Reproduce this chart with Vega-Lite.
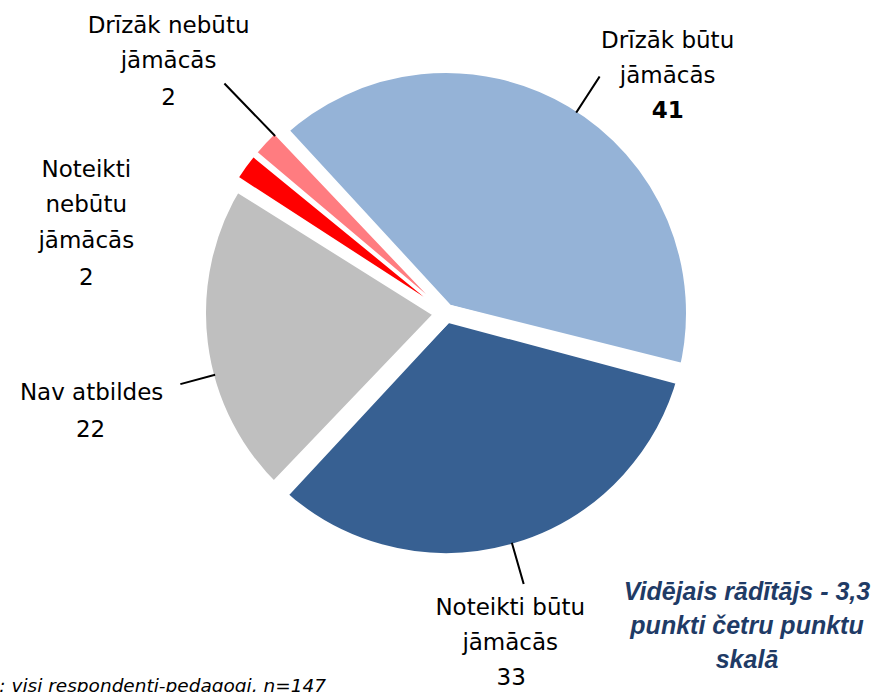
{
  "$schema": "https://vega.github.io/schema/vega-lite/v6.json",
  "width": 864,
  "height": 626,
  "autosize": {"type": "none"},
  "padding": {"left": 14, "top": 0, "right": 0, "bottom": 66},
  "background": "white",
  "config": {"view": {"stroke": null}, "text": {"font": "DejaVu Sans"}},
  "data": {"values": [
    {"cat": "Drīzāk būtu jāmācās", "name": "Drīzāk būtu\njāmācās", "value": 41, "ord": 1},
    {"cat": "Noteikti būtu jāmācās", "name": "Noteikti būtu\njāmācās", "value": 33, "ord": 2},
    {"cat": "Nav atbildes", "name": "Nav atbildes", "value": 22, "ord": 3},
    {"cat": "Noteikti nebūtu jāmācās", "name": "Noteikti\nnebūtu\njāmācās", "value": 2, "ord": 4},
    {"cat": "Drīzāk nebūtu jāmācās", "name": "Drīzāk nebūtu\njāmācās", "value": 2, "ord": 5}
  ]},
  "layer": [
    {
      "encoding": {
        "theta": {"field": "value", "type": "quantitative", "stack": true, "scale": {"range": [-0.752, 5.531]}},
        "order": {"field": "ord", "type": "quantitative"}
      },
      "layer": [
        {
          "mark": {"type": "arc", "outerRadius": 249, "padAngle": 0.015, "stroke": "white"},
          "encoding": {
            "color": {"field": "cat", "type": "nominal", "legend": null,
              "scale": {"domain": ["Drīzāk būtu jāmācās", "Noteikti būtu jāmācās", "Nav atbildes", "Noteikti nebūtu jāmācās", "Drīzāk nebūtu jāmācās"],
                        "range": ["#95B3D7", "#376092", "#BFBFBF", "#FF0000", "#FF7C80"]}},
            "strokeWidth": {"condition": {"test": "datum.value < 5", "value": 3}, "value": 18}
          }
        },
        {
          "mark": {"type": "text", "radius": 340, "align": "center", "baseline": "top", "fontSize": 23, "lineHeight": 35.5, "lineBreak": "\n", "dx": 48, "dy": 9, "color": "black"},
          "encoding": {"detail": {"field": "cat", "type": "nominal"}, "text": {"condition": {"test": "datum.ord === 1", "field": "name", "type": "nominal"}, "value": ""}}
        },
        {
          "mark": {"type": "text", "radius": 340, "align": "center", "baseline": "top", "fontSize": 23, "fontWeight": "bold", "dx": 48, "dy": 79, "color": "black"},
          "encoding": {"detail": {"field": "cat", "type": "nominal"}, "text": {"condition": {"test": "datum.ord === 1", "field": "value", "type": "quantitative"}, "value": ""}}
        },
        {
          "mark": {"type": "text", "radius": 340, "align": "center", "baseline": "top", "fontSize": 23, "lineHeight": 35.5, "lineBreak": "\n", "dx": -30, "dy": -43, "color": "black"},
          "encoding": {"detail": {"field": "cat", "type": "nominal"}, "text": {"condition": {"test": "datum.ord === 2", "field": "name", "type": "nominal"}, "value": ""}}
        },
        {
          "mark": {"type": "text", "radius": 340, "align": "center", "baseline": "top", "fontSize": 23, "dx": -29, "dy": 27, "color": "black"},
          "encoding": {"detail": {"field": "cat", "type": "nominal"}, "text": {"condition": {"test": "datum.ord === 2", "field": "value", "type": "quantitative"}, "value": ""}}
        },
        {
          "mark": {"type": "text", "radius": 340, "align": "center", "baseline": "top", "fontSize": 23, "lineHeight": 35.5, "lineBreak": "\n", "dx": -17, "dy": 27, "color": "black"},
          "encoding": {"detail": {"field": "cat", "type": "nominal"}, "text": {"condition": {"test": "datum.ord === 3", "field": "name", "type": "nominal"}, "value": ""}}
        },
        {
          "mark": {"type": "text", "radius": 340, "align": "center", "baseline": "top", "fontSize": 23, "dx": -18, "dy": 64, "color": "black"},
          "encoding": {"detail": {"field": "cat", "type": "nominal"}, "text": {"condition": {"test": "datum.ord === 3", "field": "value", "type": "quantitative"}, "value": ""}}
        },
        {
          "mark": {"type": "text", "radius": 340, "align": "center", "baseline": "top", "fontSize": 23, "lineHeight": 35.5, "lineBreak": "\n", "dx": -85, "dy": 46, "color": "black"},
          "encoding": {"detail": {"field": "cat", "type": "nominal"}, "text": {"condition": {"test": "datum.ord === 4", "field": "name", "type": "nominal"}, "value": ""}}
        },
        {
          "mark": {"type": "text", "radius": 340, "align": "center", "baseline": "top", "fontSize": 23, "dx": -85, "dy": 154, "color": "black"},
          "encoding": {"detail": {"field": "cat", "type": "nominal"}, "text": {"condition": {"test": "datum.ord === 4", "field": "value", "type": "quantitative"}, "value": ""}}
        },
        {
          "mark": {"type": "text", "radius": 340, "align": "center", "baseline": "top", "fontSize": 23, "lineHeight": 35.5, "lineBreak": "\n", "dx": -30, "dy": -65, "color": "black"},
          "encoding": {"detail": {"field": "cat", "type": "nominal"}, "text": {"condition": {"test": "datum.ord === 5", "field": "name", "type": "nominal"}, "value": ""}}
        },
        {
          "mark": {"type": "text", "radius": 340, "align": "center", "baseline": "top", "fontSize": 23, "dx": -30, "dy": 7, "color": "black"},
          "encoding": {"detail": {"field": "cat", "type": "nominal"}, "text": {"condition": {"test": "datum.ord === 5", "field": "value", "type": "quantitative"}, "value": ""}}
        }
      ]
    },
    {
      "transform": [{"stack": "value", "groupby": [], "sort": [{"field": "ord", "order": "ascending"}], "as": ["v0", "v1"]}, {"filter": "datum.ord === 1"}],
      "mark": {"type": "arc", "innerRadius": 240, "outerRadius": 281, "thetaOffset": 1.3282, "theta2Offset": -1.2479, "fill": null, "stroke": "black", "strokeWidth": 2},
      "encoding": {"theta": {"field": "v0", "type": "quantitative", "scale": {"range": [-0.752, 5.531]}}, "theta2": {"field": "v1"}}
    },
    {
      "transform": [{"stack": "value", "groupby": [], "sort": [{"field": "ord", "order": "ascending"}], "as": ["v0", "v1"]}, {"filter": "datum.ord === 2"}],
      "mark": {"type": "arc", "innerRadius": 240, "outerRadius": 281, "thetaOffset": 1.0385, "theta2Offset": -1.0350, "fill": null, "stroke": "black", "strokeWidth": 2},
      "encoding": {"theta": {"field": "v0", "type": "quantitative", "scale": {"range": [-0.752, 5.531]}}, "theta2": {"field": "v1"}}
    },
    {
      "transform": [{"stack": "value", "groupby": [], "sort": [{"field": "ord", "order": "ascending"}], "as": ["v0", "v1"]}, {"filter": "datum.ord === 3"}],
      "mark": {"type": "arc", "innerRadius": 240, "outerRadius": 274, "thetaOffset": 0.5533, "theta2Offset": -0.8290, "fill": null, "stroke": "black", "strokeWidth": 2},
      "encoding": {"theta": {"field": "v0", "type": "quantitative", "scale": {"range": [-0.752, 5.531]}}, "theta2": {"field": "v1"}}
    },
    {
      "transform": [{"stack": "value", "groupby": [], "sort": [{"field": "ord", "order": "ascending"}], "as": ["v0", "v1"]}, {"filter": "datum.ord === 5"}],
      "mark": {"type": "arc", "innerRadius": 247, "outerRadius": 318, "thetaOffset": 0.1100, "theta2Offset": -0.0157, "fill": null, "stroke": "black", "strokeWidth": 2},
      "encoding": {"theta": {"field": "v0", "type": "quantitative", "scale": {"range": [-0.752, 5.531]}}, "theta2": {"field": "v1"}}
    },
    {
      "data": {"values": [{"note": "Vidējais rādītājs - 3,3\npunkti četru punktu\nskalā"}]},
      "mark": {"type": "text", "align": "center", "baseline": "top", "font": "Liberation Sans", "fontSize": 25, "fontWeight": "bold", "fontStyle": "italic", "lineHeight": 34, "lineBreak": "\n", "color": "#1F3B66"},
      "encoding": {"text": {"field": "note", "type": "nominal"}, "x": {"value": 733}, "y": {"value": 580}}
    },
    {
      "data": {"values": [{"note": "Bāze: visi respondenti-pedagogi, n=147"}]},
      "mark": {"type": "text", "align": "right", "baseline": "alphabetic", "font": "DejaVu Sans", "fontSize": 18.5, "fontStyle": "italic", "color": "black"},
      "encoding": {"text": {"field": "note", "type": "nominal"}, "x": {"value": 312}, "y": {"value": 692}}
    }
  ]
}
